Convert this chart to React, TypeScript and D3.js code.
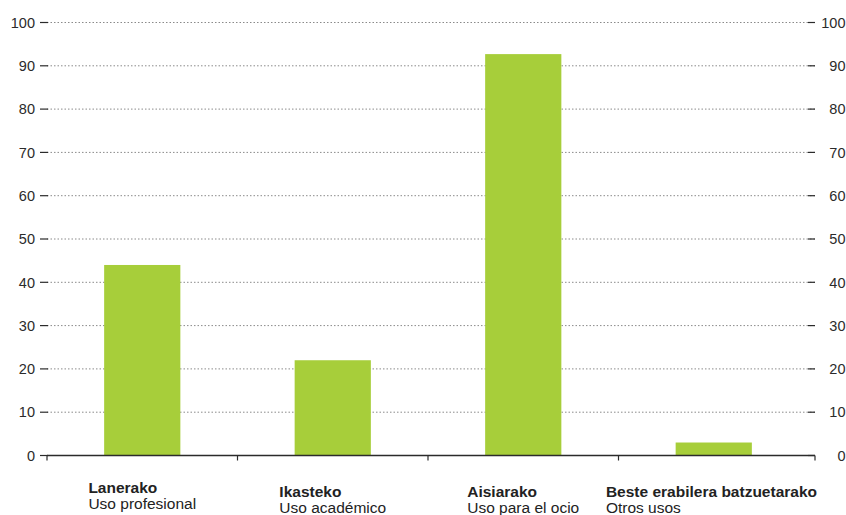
import React from "react";
import * as d3 from "d3";

const categories = ["Lanerako", "Ikasteko", "Aisiarako", "Beste erabilera batzuetarako"];
const subtitles = ["Uso profesional", "Uso académico", "Uso para el ocio", "Otros usos"];
const values = [44, 22, 92.7, 3];
const yTicks = [0, 10, 20, 30, 40, 50, 60, 70, 80, 90, 100];

const W = 846;
const H = 515;
const left = 47;
const right = 815;
const bandRight = 809;
const top = 22.5;
const bottom = 455.5;
const font = "'Liberation Sans', Arial, Helvetica, sans-serif";
const axisColor = "#2b2b2b";
const barColor = "#a7ce3a";
const labelSize = 15.5;

export default function App() {
  const x = d3.scaleBand<string>().domain(categories).range([left, bandRight]).padding(0);
  const y = d3.scaleLinear().domain([0, 100]).range([bottom, top]);
  const bw = x.bandwidth();
  const barW = bw * 0.4;
  const ctx = typeof document !== "undefined" ? document.createElement("canvas").getContext("2d") : null;
  const measure = (t: string, bold: boolean) => {
    if (!ctx) return t.length * 8;
    ctx.font = `${bold ? "bold " : ""}${labelSize}px ${font}`;
    return ctx.measureText(t).width;
  };

  return (
    <svg width={W} height={H} style={{ position: "absolute", left: 0, top: 0, background: "#fff" }}>
      {yTicks.filter((t) => t > 0).map((t) => (
        <line key={"g" + t} x1={left} x2={right} y1={y(t)} y2={y(t)} stroke="#8a8a8a" strokeWidth={1} strokeDasharray="1.5 2" />
      ))}
      {categories.map((c, i) => (
        <rect
          key={c}
          x={(x(c) as number) + bw / 2 - barW / 2}
          y={y(values[i])}
          width={barW}
          height={y(0) - y(values[i])}
          fill={barColor}
        />
      ))}
      {yTicks.map((t) => (
        <g key={"l" + t}>
          <line x1={left - 7} x2={left + 1} y1={y(t)} y2={y(t)} stroke={axisColor} strokeWidth={1.2} />
          <text x={left - 12} y={y(t)} dy="0.36em" textAnchor="end" fontFamily={font} fontSize={14.5} fill={axisColor}>
            {t}
          </text>
        </g>
      ))}
      {yTicks.map((t) => (
        <g key={"r" + t}>
          <line x1={right - 7} x2={right} y1={y(t)} y2={y(t)} stroke={axisColor} strokeWidth={1.2} />
          <text x={W - 0.5} y={y(t)} dy="0.36em" textAnchor="end" fontFamily={font} fontSize={14.5} fill={axisColor}>
            {t}
          </text>
        </g>
      ))}
      <line x1={left} x2={right} y1={y(0)} y2={y(0)} stroke={axisColor} strokeWidth={1.5} />
      {categories.map((c) => (
        <line key={"t" + c} x1={x(c) as number} x2={x(c) as number} y1={y(0)} y2={y(0) + 5} stroke={axisColor} strokeWidth={1.2} />
      ))}
      <line x1={right} x2={right} y1={y(0)} y2={y(0) + 5} stroke={axisColor} strokeWidth={1.2} />
      {categories.map((c, i) => {
        const wBlock = Math.max(measure(c, true), measure(subtitles[i], false));
        const cx = (x(c) as number) + bw / 2;
        const lx = Math.min(cx - wBlock / 2, right + 2 - wBlock);
        const by = i === 0 ? 493 : 497;
        return (
          <g key={"lab" + c} fontFamily={font} fontSize={labelSize} fill="#222">
            <text x={lx} y={by} fontWeight="bold">{c}</text>
            <text x={lx} y={by + 16}>{subtitles[i]}</text>
          </g>
        );
      })}
    </svg>
  );
}
